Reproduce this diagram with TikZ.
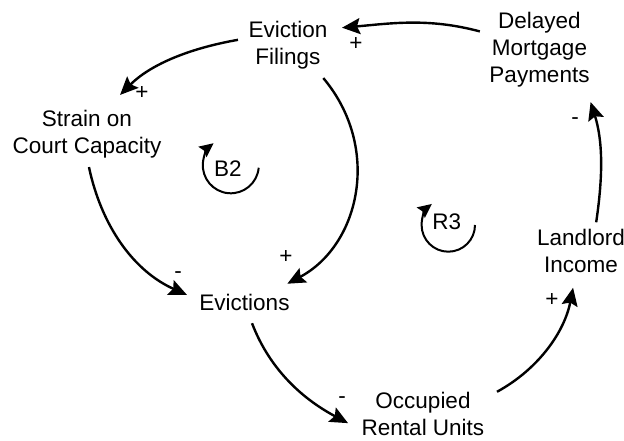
\documentclass[tikz,border=0pt]{standalone}
\usepackage{fontspec}
\setmainfont{Liberation Sans}
\usetikzlibrary{arrows.meta}

\begin{document}
\begin{tikzpicture}[
  x=1pt, y=1pt,
  every node/.style={font=\fontsize{22.5}{27}\selectfont, inner sep=0pt, outer sep=0pt},
  var/.style={align=center},
  sgn/.style={inner sep=0pt},
  arr/.style={-{Stealth[length=18pt, width=16pt, inset=3pt]}, line width=2.4pt},
  loopline/.style={-{Stealth[length=14pt, width=13pt, inset=2pt]}, line width=2pt}
]
\useasboundingbox (0,0) rectangle (624,441);

% Variables
\node[var] (filings) at (288,396.1) {Eviction\\Filings};
\node[var] (delayed) at (539.5,391.7) {Delayed\\Mortgage\\Payments};
\node[var] (strain) at (87,307.1) {Strain on\\Court Capacity};
\node[var] (evictions) at (244.5,139) {Evictions};
\node[var] (occupied) at (423,27) {Occupied\\Rental Units};
\node[var] (landlord) at (581,190) {Landlord\\Income};

% Links
\draw[arr, shorten <=10pt, shorten >=14.7pt] (delayed.163) to[out=165, in=5] (filings.22);
\draw[arr, shorten <=10.8pt, shorten >=21.2pt] (filings.170) to[out=190, in=45] (strain.53);
\draw[arr, shorten <=12pt, shorten >=21.3pt] (filings.-41) to[out=310, in=28, looseness=1.15] (evictions.19.5);
\draw[arr, shorten <=9.4pt, shorten >=13.7pt] (strain.south) to[out=282, in=156] (evictions.178);
\draw[arr, shorten <=13.9pt, shorten >=15.5pt] (evictions.287) to[out=291, in=152] (occupied.195);
\draw[arr, shorten <=14.5pt, shorten >=15.3pt] (occupied.14) to[out=28.6, in=259] (landlord.257);
\draw[arr, shorten <=7pt, shorten >=16pt] (landlord.57) to[out=81.5, in=287.5] (delayed.-39);

% Polarities
\node[sgn] (sgnA) at (356,397) {+};
\node[sgn] (sgnB) at (142,348) {+};
\node[sgn] (sgnC) at (286,184) {+};
\node[sgn] (sgnD) at (178,166) {-};
\node[sgn] (sgnE) at (342,41) {-};
\node[sgn] (sgnF) at (552,141) {+};
\node[sgn] (sgnG) at (575,320) {-};

% Loop labels
\node (b2) at (228,272) {B2};
\draw[loopline] ([shift={(-5:28)}]230.8,275.7) arc[start angle=-5, end angle=-232, radius=28];
\node (r3) at (446.7,219.3) {R3};
\draw[loopline] ([shift={(0:26.7)}]448.3,216) arc[start angle=0, end angle=-232, radius=26.7];

\end{tikzpicture}
\end{document}
